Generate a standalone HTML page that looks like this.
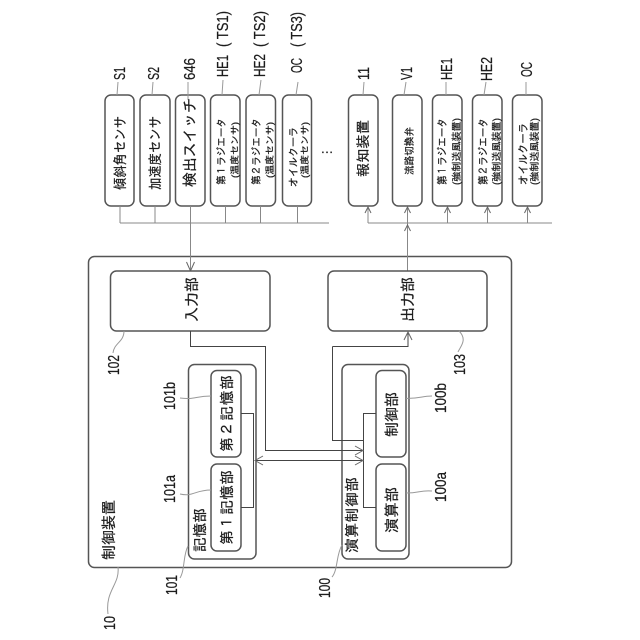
<!DOCTYPE html>
<html><head><meta charset="utf-8"><style>
html,body{margin:0;padding:0;background:#fff}
svg{display:block}
text{font-family:"Liberation Sans","IPAGothic","Noto Sans CJK JP",sans-serif;fill:#1c1c1c;stroke:#1c1c1c;stroke-width:.25}
.b{fill:#fff;stroke:#555;stroke-width:1.5}
.w{fill:none;stroke:#444;stroke-width:1}
.g{fill:none;stroke:#888;stroke-width:1}
.l{fill:none;stroke:#999;stroke-width:1}
.a{fill:none;stroke:#666;stroke-width:1}
</style></head><body>
<svg width="640" height="640" viewBox="0 0 640 640" xmlns="http://www.w3.org/2000/svg">
<rect class="b" x="88.5" y="256.5" width="423" height="311" rx="6"/>
<!-- top boxes -->
<rect class="b" x="105" y="95" width="29" height="111" rx="6"/>
<rect class="b" x="140" y="95" width="30" height="111" rx="6"/>
<rect class="b" x="175.500" y="95" width="29.500" height="111" rx="6"/>
<rect class="b" x="210.500" y="95" width="29.500" height="111" rx="6"/>
<rect class="b" x="246" y="95" width="29.500" height="111" rx="6"/>
<rect class="b" x="282.500" y="95" width="29" height="111" rx="6"/>
<rect class="b" x="348.500" y="95" width="29.500" height="111" rx="6"/>
<rect class="b" x="392.500" y="95" width="29.500" height="111" rx="6"/>
<rect class="b" x="432.500" y="95" width="29.500" height="111" rx="6"/>
<rect class="b" x="472.500" y="95" width="29.500" height="111" rx="6"/>
<rect class="b" x="512.500" y="95" width="29.500" height="111" rx="6"/>
<!-- top wires -->
<path class="g" d="M120 206V223M155 206V223M225.500 206V223M260.500 206V223M297.500 206V223M120 223H329M190.500 206V271"/>
<path class="a" d="M186.500 262L190.500 271L194.500 262"/>
<path class="g" d="M368 208V223M407.500 208V271M447.500 208V223M487.500 208V223M527.500 208V223M368 223H552"/>
<path class="a" d="M365 213L368 207L371 213M404.500 213L407.500 207L410.500 213M444.500 213L447.500 207L450.500 213M484.500 213L487.500 207L490.500 213M524.500 213L527.500 207L530.500 213M404.500 231L407.500 225L410.500 231"/>
<!-- blocks -->
<rect class="b" x="110.500" y="271" width="159.500" height="60" rx="6"/>
<rect class="b" x="328" y="271" width="159" height="60" rx="6"/>
<rect class="b" x="188.500" y="364.500" width="67.500" height="194.500" rx="6"/>
<rect class="b" x="211" y="370.500" width="30" height="86.500" rx="6"/>
<rect class="b" x="211" y="464" width="30" height="87" rx="6"/>
<rect class="b" x="342" y="364.500" width="67" height="194.500" rx="6"/>
<rect class="b" x="376" y="370.500" width="30" height="86.500" rx="6"/>
<rect class="b" x="376" y="464" width="30" height="87" rx="6"/>
<!-- inner wires -->
<path class="w" d="M190.500 331V346.500H265.500V450.500H362M332.500 346.500H408V333M332.500 346.500V440.500H363.500M241 413.500H253.500V507.500H241M376 413.500H363.500V507.500H376M255 460.500H362"/>
<path class="a" d="M404 340L408 332L412 340M355 446L363 450.500L355 455M355 456L363 460.500L355 465M263 456L255 460.500L263 465"/>
<!-- leaders -->
<path class="l" d="M118 82L117 95M153 82L152 95M188 82V100M223 80L222 95M261 80L259 95M298 82L296 95M364 82L363 95M406 82L404 95M446 82V95M486 82L484 95M526 82V95"/>
<path class="l" d="M124 331C124 342 114 343 113 353M459 331C468 340 460 347 458 352M211 396C195 396 195 400 180 398M211 490C195 490 193 497 180 494M406 398.500C420 398.500 422 396 432 396M406 493C420 493 420 490 432 491M188 546C183 555 185 570 180 578M342 545C336 555 338 570 332 577M118 567C120 585 105 590 108 614"/>
<!-- labels -->
<g font-size="16">
<text transform="translate(125 80) rotate(-90)" textLength="13" lengthAdjust="spacingAndGlyphs">S1</text>
<text transform="translate(159 80) rotate(-90)" textLength="13" lengthAdjust="spacingAndGlyphs">S2</text>
<text transform="translate(195 80) rotate(-90)" textLength="22" lengthAdjust="spacingAndGlyphs">646</text>
<text transform="translate(228 77) rotate(-90)" textLength="22" lengthAdjust="spacingAndGlyphs">HE1</text>
<text transform="translate(228 47) rotate(-90)" textLength="36" lengthAdjust="spacingAndGlyphs">( TS1)</text>
<text transform="translate(265 77) rotate(-90)" textLength="23" lengthAdjust="spacingAndGlyphs">HE2</text>
<text transform="translate(265 47) rotate(-90)" textLength="36" lengthAdjust="spacingAndGlyphs">( TS2)</text>
<text transform="translate(302 73) rotate(-90)" textLength="15" lengthAdjust="spacingAndGlyphs">OC</text>
<text transform="translate(302 47) rotate(-90)" textLength="35" lengthAdjust="spacingAndGlyphs">( TS3)</text>
<text transform="translate(369 80) rotate(-90)" textLength="13" lengthAdjust="spacingAndGlyphs">11</text>
<text transform="translate(412 80) rotate(-90)" textLength="13" lengthAdjust="spacingAndGlyphs">V1</text>
<text transform="translate(452 80) rotate(-90)" textLength="22" lengthAdjust="spacingAndGlyphs">HE1</text>
<text transform="translate(492 81) rotate(-90)" textLength="24" lengthAdjust="spacingAndGlyphs">HE2</text>
<text transform="translate(532 77) rotate(-90)" textLength="15" lengthAdjust="spacingAndGlyphs">OC</text>
<text transform="translate(119 375) rotate(-90)" textLength="20" lengthAdjust="spacingAndGlyphs">102</text>
<text transform="translate(465 375) rotate(-90)" textLength="21" lengthAdjust="spacingAndGlyphs">103</text>
<text transform="translate(175 410) rotate(-90)" textLength="28" lengthAdjust="spacingAndGlyphs">101b</text>
<text transform="translate(175 503) rotate(-90)" textLength="28" lengthAdjust="spacingAndGlyphs">101a</text>
<text transform="translate(446 413) rotate(-90)" textLength="30" lengthAdjust="spacingAndGlyphs">100b</text>
<text transform="translate(446 502) rotate(-90)" textLength="30" lengthAdjust="spacingAndGlyphs">100a</text>
<text transform="translate(177 595) rotate(-90)" textLength="20" lengthAdjust="spacingAndGlyphs">101</text>
<text transform="translate(330 598) rotate(-90)" textLength="20" lengthAdjust="spacingAndGlyphs">100</text>
<text transform="translate(115 630) rotate(-90)" textLength="14" lengthAdjust="spacingAndGlyphs">10</text>
</g>
<!-- box text -->
<g>
<text transform="translate(125 190) rotate(-90)" font-size="14" textLength="74" lengthAdjust="spacingAndGlyphs">傾斜角センサ</text>
<text transform="translate(160 190) rotate(-90)" font-size="14" textLength="74" lengthAdjust="spacingAndGlyphs">加速度センサ</text>
<text transform="translate(195 187) rotate(-90)" font-size="15" textLength="89">検出スイッチ</text>
<text transform="translate(225 185) rotate(-90)" font-size="10.500" textLength="67" lengthAdjust="spacingAndGlyphs">第１ラジエータ</text>
<text transform="translate(238 178) rotate(-90)" font-size="9.500" textLength="56" lengthAdjust="spacingAndGlyphs">(温度センサ)</text>
<text transform="translate(260 185) rotate(-90)" font-size="10.500" textLength="67" lengthAdjust="spacingAndGlyphs">第２ラジエータ</text>
<text transform="translate(273 178) rotate(-90)" font-size="9.500" textLength="56" lengthAdjust="spacingAndGlyphs">(温度センサ)</text>
<text transform="translate(297 187) rotate(-90)" font-size="10.500" textLength="60" lengthAdjust="spacingAndGlyphs">オイルクーラ</text>
<text transform="translate(308 178) rotate(-90)" font-size="9.500" textLength="56" lengthAdjust="spacingAndGlyphs">(温度センサ)</text>
<text transform="translate(368 177) rotate(-90)" font-size="14" textLength="57">報知装置</text>
<text transform="translate(413 175) rotate(-90)" font-size="10.500" textLength="48" lengthAdjust="spacingAndGlyphs">流路切換弁</text>
<text transform="translate(446 185) rotate(-90)" font-size="11" textLength="67" lengthAdjust="spacingAndGlyphs">第１ラジエータ</text>
<text transform="translate(460 185) rotate(-90)" font-size="10" textLength="67" lengthAdjust="spacingAndGlyphs">(強制送風装置)</text>
<text transform="translate(487 185) rotate(-90)" font-size="11" textLength="67" lengthAdjust="spacingAndGlyphs">第２ラジエータ</text>
<text transform="translate(500 185) rotate(-90)" font-size="10" textLength="67" lengthAdjust="spacingAndGlyphs">(強制送風装置)</text>
<text transform="translate(527 185) rotate(-90)" font-size="11" textLength="62" lengthAdjust="spacingAndGlyphs">オイルクーラ</text>
<text transform="translate(538 185) rotate(-90)" font-size="10" textLength="67" lengthAdjust="spacingAndGlyphs">(強制送風装置)</text>
<text x="327" y="153" font-size="13" text-anchor="middle">…</text>
<text transform="translate(197 322) rotate(-90)" font-size="15" textLength="45">入力部</text>
<text transform="translate(413 322) rotate(-90)" font-size="15" textLength="45">出力部</text>
<text transform="translate(232 452) rotate(-90)" font-size="14.500" textLength="77">第２記憶部</text>
<text transform="translate(232 545) rotate(-90)" font-size="14.500" textLength="75">第１記憶部</text>
<text transform="translate(397 437) rotate(-90)" font-size="15" textLength="45">制御部</text>
<text transform="translate(397 533) rotate(-90)" font-size="15" textLength="46">演算部</text>
<text transform="translate(205 552) rotate(-90)" font-size="14.500" textLength="44">記憶部</text>
<text transform="translate(357 553) rotate(-90)" font-size="14.500" textLength="76">演算制御部</text>
<text transform="translate(114 560) rotate(-90)" font-size="15" textLength="60">制御装置</text>
</g>
</svg>
</body></html>
